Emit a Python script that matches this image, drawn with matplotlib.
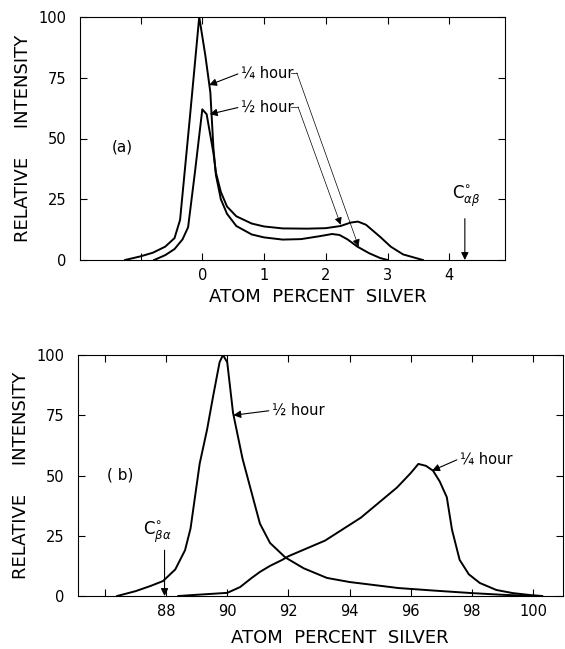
import matplotlib
matplotlib.use("Agg")
import matplotlib.pyplot as plt

# ---- panel (a): silver-poor side ----
a_quarter_x = [-1.25, -1.0, -0.8, -0.6, -0.45, -0.36, -0.2, -0.05, 0.05, 0.13, 0.18, 0.22,
               0.3, 0.4, 0.55, 0.8, 1.0, 1.3, 1.6, 1.9, 2.1, 2.22, 2.35, 2.51, 2.7, 2.88, 3.0]
a_quarter_y = [0, 1.5, 3, 5.5, 9, 16.5, 59, 100, 84, 69, 46, 35,
               25, 19, 14, 10.5, 9.3, 8.4, 8.6, 9.8, 10.7, 10.3, 8.5, 5.5, 2.8, 0.8, 0]

a_half_x = [-0.78, -0.6, -0.45, -0.32, -0.23, -0.12, 0.0, 0.07, 0.18, 0.22, 0.3, 0.4, 0.55,
            0.8, 1.0, 1.3, 1.7, 2.0, 2.24, 2.4, 2.52, 2.65, 2.88, 3.05, 3.25, 3.57]
a_half_y = [0, 2, 4.5, 8.5, 13.5, 36, 62, 60, 44, 36, 28, 22, 18,
            15, 13.8, 13, 12.9, 13.1, 14.0, 15.4, 15.8, 14.5, 9.5, 5.5, 2.3, 0]

a_xticks = [-1, 0, 1, 2, 3, 4]
a_xticklabels = ["", "0", "1", "2", "3", "4"]

# ---- panel (b): silver-rich side ----
b_half_x = [86.4, 87.0, 87.5, 87.9, 88.3, 88.62, 88.8, 89.1, 89.34, 89.54, 89.75, 89.86, 90.0,
            90.19, 90.5, 90.9, 91.07, 91.4, 91.9, 92.5, 93.26, 94.0, 95.6, 96.7, 98.0, 99.0, 100.0]
b_half_y = [0, 2, 4.2, 6.2, 11, 19, 28, 55, 69, 83, 97, 100, 97,
            76, 57, 38, 30, 22, 16, 11.5, 7.5, 5.8, 3.3, 2.3, 1.2, 0.5, 0]

b_quarter_x = [88.4, 89.0, 90.0, 90.42, 90.8, 91.07, 91.4, 91.8, 92.0, 93.2, 94.37, 95.55, 96.0,
               96.25, 96.5, 96.73, 96.95, 97.18, 97.35, 97.6, 97.9, 98.26, 98.8, 99.34, 99.9, 100.3]
b_quarter_y = [0, 0.5, 1.3, 3.7, 7.5, 10, 12.5, 15, 16.5, 23, 32.5, 45, 51,
               54.8, 54, 52, 47.5, 41, 27.5, 15, 9, 5.4, 2.5, 1.2, 0.4, 0]

b_xticks = [86, 88, 90, 92, 94, 96, 98, 100]
b_xticklabels = ["", "88", "90", "92", "94", "96", "98", "100"]

yticks = [0, 25, 50, 75, 100]

fig = plt.figure(figsize=(5.65, 6.49), dpi=100)
ax_a = fig.add_axes([80 / 565, 1 - 260 / 649, 425 / 565, 243 / 649])
ax_b = fig.add_axes([78 / 565, 1 - 596 / 649, 485 / 565, 241 / 649])

arrow = dict(arrowstyle="-|>", color="k", lw=0.8, mutation_scale=11, shrinkA=0, shrinkB=0)
thin = dict(arrowstyle="-|>", color="k", lw=0.5, mutation_scale=11, shrinkA=0, shrinkB=0)


def style(ax, xlim, xticks, xlabels):
    ax.set_xlim(*xlim)
    ax.set_ylim(0, 100)
    ax.set_xticks(xticks)
    ax.set_xticklabels(xlabels)
    ax.set_yticks(yticks)
    ax.tick_params(direction="in", length=5, width=0.8, top=True, right=True,
                   labelsize=10.5)
    ax.tick_params(axis="y", pad=10)
    ax.tick_params(axis="x", pad=6)
    for s in ax.spines.values():
        s.set_linewidth(0.8)


# panel (a)
ax_a.plot(a_quarter_x, a_quarter_y, color="k", lw=1.4)
ax_a.plot(a_half_x, a_half_y, color="k", lw=1.4)
style(ax_a, (-1.98, 4.9), a_xticks, a_xticklabels)
ax_a.text(-1.3, 46.5, "(a)", fontsize=11, ha="center", va="center")

ax_a.annotate("¼ hour", xy=(0.11, 72), xytext=(0.62, 77), fontsize=10.5, va="center",
              arrowprops=dict(arrow, relpos=(0, 0.5)))
ax_a.plot([1.44, 1.53], [77, 77], color="k", lw=0.5)
ax_a.annotate("", xy=(2.53, 5.5), xytext=(1.53, 77), arrowprops=thin)

ax_a.annotate("½ hour", xy=(0.12, 60), xytext=(0.62, 63), fontsize=10.5, va="center",
              arrowprops=dict(arrow, relpos=(0, 0.5)))
ax_a.plot([1.44, 1.55], [63, 63], color="k", lw=0.5)
ax_a.annotate("", xy=(2.24, 14.5), xytext=(1.55, 63), arrowprops=thin)

ax_a.text(4.28, 21, r"$\mathrm{C}^{\circ}_{\alpha\beta}$", fontsize=12, ha="center", va="bottom")
ax_a.annotate("", xy=(4.25, 0), xytext=(4.25, 17), arrowprops=arrow)

# panel (b)
ax_b.plot(b_half_x, b_half_y, color="k", lw=1.4)
ax_b.plot(b_quarter_x, b_quarter_y, color="k", lw=1.4)
style(ax_b, (85.12, 100.98), b_xticks, b_xticklabels)
ax_b.text(86.5, 50, "( b)", fontsize=11, ha="center", va="center")

ax_b.annotate("½ hour", xy=(90.2, 75), xytext=(91.45, 77), fontsize=10.5, va="center",
              arrowprops=dict(arrow, relpos=(0, 0.5)))
ax_b.annotate("¼ hour", xy=(96.7, 52), xytext=(97.6, 57), fontsize=10.5, va="center",
              arrowprops=dict(arrow, relpos=(0, 0.5)))

ax_b.text(87.7, 21, r"$\mathrm{C}^{\circ}_{\beta\alpha}$", fontsize=12, ha="center", va="bottom")
ax_b.annotate("", xy=(87.95, 0), xytext=(87.95, 19), arrowprops=arrow)

# axis labels
fig.text(23 / 565, 1 - 138 / 649, "RELATIVE     INTENSITY", rotation=90,
         ha="center", va="center", fontsize=13)
fig.text(21 / 565, 1 - 475 / 649, "RELATIVE     INTENSITY", rotation=90,
         ha="center", va="center", fontsize=13)
fig.text(318 / 565, 1 - 297 / 649, "ATOM  PERCENT  SILVER", ha="center", va="center",
         fontsize=13)
fig.text(340 / 565, 1 - 638 / 649, "ATOM  PERCENT  SILVER", ha="center", va="center",
         fontsize=13)

fig.savefig("out.png", dpi=100)
